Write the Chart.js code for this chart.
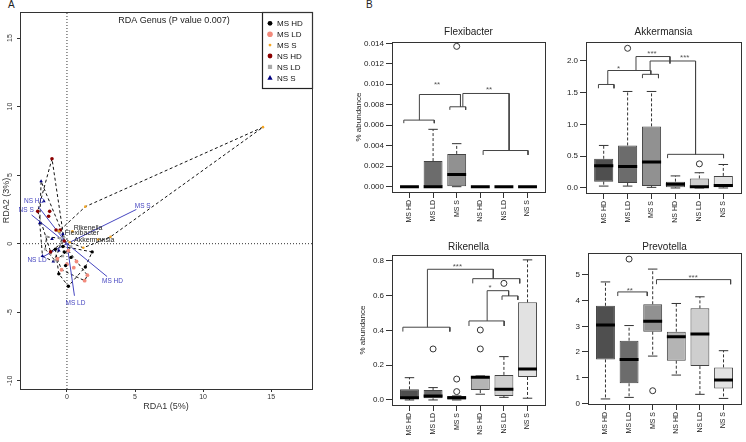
<!DOCTYPE html>
<html lang="en">
<head>
<meta charset="UTF-8">
<title>RDA Genus and boxplots</title>
<script src="https://cdn.jsdelivr.net/npm/chart.js"></script>
<style>
  body { margin: 0; background: #fff; width: 746px; height: 442px; position: relative; overflow: hidden;
         font-family: 'Liberation Sans', Arial, sans-serif; }
  canvas { position: absolute; }
  .panel { position: absolute; font-size: 10px; color: #222; }
</style>
</head>
<body>
<div class="panel" style="left:8px;top:-1px;">A</div>
<div class="panel" style="left:366px;top:-1px;">B</div>
<canvas id="rda" width="322" height="442" style="left:0;top:0"></canvas>
<canvas id="flex" width="220" height="232" style="left:330px;top:0"></canvas>
<canvas id="akk" width="196" height="232" style="left:550px;top:0"></canvas>
<canvas id="rik" width="220" height="230" style="left:330px;top:212px"></canvas>
<canvas id="prev" width="196" height="230" style="left:550px;top:212px"></canvas>

<script>
// ---- data: RDA (panel A) ----
const rdaXTicks = [0, 5, 10, 15];
const rdaYTicks = [-10, -5, 0, 5, 10, 15];
const rdaXMin = -3.45, rdaXMax = 18, rdaYMin = -10.6, rdaYMax = 16.9;

const legendNames = ['MS HD', 'MS LD', 'MS S', 'NS HD', 'NS LD', 'NS S'];
const msHdX = [-0.85, -0.3, 1.85, 1.35, 0.1, -0.6, 0.3, -0.2, -0.1];
const msHdY = [-0.4, -0.2, -0.6, -1.7, -3.1, -2.2, -1.0, -0.6, -1.6];
const msLdX = [0.7, 0.5, 1.5, 1.3, 0.0, -0.4, -0.7, 0.1];
const msLdY = [-1.3, -1.75, -2.3, -2.7, -1.5, -1.9, -1.1, -0.5];
const msSX = [14.4, 1.35, 3.2, 2.3, 0.2, -0.6, 1.2, 0.4];
const msSY = [8.5, 2.7, 0.5, 0.3, 0.1, 0.9, -0.3, 0.9];
const nsHdX = [-1.1, -2.15, -1.27, -1.35, -0.8, -0.2, -1.2, -0.5];
const nsHdY = [6.2, 2.36, 2.36, 2.0, 1.0, 0.2, -0.6, 1.0];
const nsLdX = [-1.6, -1.2, -0.5, -0.9, 0.3, -1.5, -0.3];
const nsLdY = [-0.4, -0.7, 0.4, -1.2, -0.2, 0.5, -0.9];
const nsSX = [-1.9, -1.7, -1.8, -1.0, -0.3, -1.1, -0.6, -2.0];
const nsSY = [4.55, 3.1, -0.9, -1.3, 0.7, 0.35, -0.5, 1.5];

const centroidNames = ['MS S', 'MS HD', 'MS LD', 'NS HD', 'NS S', 'NS LD'];
const centroidX = [5.1, 2.95, 0.55, -2.1, -2.6, -1.75];
const centroidY = [2.5, -2.4, -3.8, 2.7, 2.1, -0.95];

const speciesNames = ['Rikenella', 'Flexibacter', 'Akkermansia'];
const speciesX = [1.55, 1.1, 2.0];
const speciesY = [1.17, 0.8, 0.3];

// ---- data: boxplots (panel B) ----
const groups = ['MS HD', 'MS LD', 'MS S', 'NS HD', 'NS LD', 'NS S'];

const flexLow  = [0, 0, 0, 0, 0, 0];
const flexQ1   = [0, 0, 0, 0, 0, 0];
const flexMed  = [0, 0, 0.0012, 0, 0, 0];
const flexQ3   = [0, 0.0025, 0.0032, 0, 0, 0];
const flexHigh = [0, 0.0056, 0.0042, 0, 0, 0];
const flexOut  = [[], [], [0.0137], [], [], []];
const flexTicks = [0, 0.002, 0.004, 0.006, 0.008, 0.010, 0.012, 0.014];
// brackets: [from, to, height, left leg end, right leg end]
const flexBrackets = [[0.76, 2.05, 0.0065, 0.0062, 0.0062], [2.71, 3.38, 0.0078, 0.0075, 0.0075],
  [1.42, 3.16, 0.009, 0.0065, 0.0078], [4.12, 6.02, 0.00353, 0.0031, 0.0031], [3.26, 5.22, 0.0091, 0.0078, 0.00353]];
const flexStars = [['**', 2.17, 0.0101], ['**', 4.37, 0.0096]];

const akkLow  = [0.03, 0.03, 0.01, 0.0, 0.0, 0.0];
const akkQ1   = [0.10, 0.08, 0.03, 0.01, 0.01, 0.01];
const akkMed  = [0.35, 0.34, 0.41, 0.06, 0.02, 0.04];
const akkQ3   = [0.46, 0.67, 0.97, 0.10, 0.15, 0.19];
const akkHigh = [0.67, 1.52, 1.52, 0.19, 0.24, 0.37];
const akkOut  = [[], [2.2], [], [], [0.38], []];
const akkTicks = [0, 0.5, 1.0, 1.5, 2.0];
const akkBrackets = [[0.78, 1.43, 1.63, 1.57, 1.57], [2.62, 3.29, 1.79, 1.73, 1.73],
  [1.17, 2.97, 1.85, 1.63, 1.79], [2.35, 3.77, 2.07, 1.85, 1.96], [2.94, 4.84, 2.0, 1.85, 0.53],
  [3.67, 6.01, 0.53, 0.47, 0.47]];
const akkStars = [['*', 1.62, 1.9], ['***', 3.02, 2.13], ['***', 4.39, 2.08]];

const rikLow  = [0.0, 0.0, 0.0, 0.033, 0.015, 0.01];
const rikQ1   = [0.006, 0.01, 0.0, 0.057, 0.023, 0.132];
const rikMed  = [0.012, 0.023, 0.013, 0.13, 0.061, 0.178];
const rikQ3   = [0.061, 0.057, 0.023, 0.138, 0.144, 0.561];
const rikHigh = [0.128, 0.071, 0.023, 0.138, 0.249, 0.805];
const rikOut  = [[], [0.293], [0.048, 0.12], [0.293, 0.402], [0.67], []];
const rikTicks = [0, 0.2, 0.4, 0.6, 0.8];
const rikBrackets = [[0.72, 2.71, 0.418, 0.393, 0.393], [3.52, 5.01, 0.454, 0.425, 0.425],
  [4.92, 5.59, 0.598, 0.575, 0.575], [4.29, 5.20, 0.628, 0.454, 0.598], [3.68, 5.67, 0.697, 0.67, 0.67],
  [1.76, 4.55, 0.751, 0.418, 0.697]];
const rikStars = [['*', 4.41, 0.655], ['***', 3.03, 0.775]];

const prevLow  = [0.17, 0.23, 1.84, 1.10, 0.35, 0.19];
const prevQ1   = [1.71, 0.78, 2.79, 1.66, 1.45, 0.58];
const prevMed  = [3.05, 1.71, 3.20, 2.59, 2.70, 0.91];
const prevQ3   = [3.80, 2.44, 3.86, 2.79, 3.70, 1.40];
const prevHigh = [4.73, 3.03, 5.23, 3.89, 4.15, 2.05];
const prevOut  = [[], [5.62], [0.49], [], [], []];
const prevTicks = [0, 1, 2, 3, 4, 5];
const prevBrackets = [[1.52, 2.77, 4.34, 4.18, 4.18], [3.16, 6.30, 4.82, 4.64, 4.64]];
const prevStars = [['**', 2.03, 4.43], ['***', 4.71, 4.95]];

// ---- styles ----
const family = "'Liberation Sans', Arial, sans-serif";
Chart.defaults.font.family = family;
const boxFill = ['#4f4f4f', '#6c6c6c', '#919191', '#b4b4b4', '#cecece', '#e2e2e2'];
const groupColors = ['#000000', '#f28a7c', '#f5a623', '#8b0000', '#a9a9a9', '#00007f'];
const groupStyles = ['circle', 'circle', 'circle', 'circle', 'rect', 'triangle'];
const groupRadius = [1.7, 1.9, 1.3, 1.8, 1.8, 2.1];
const arrowColor = '#4646c0';

// frame around the plot region (R box())
const framePlugin = {
  id: 'frame',
  afterDraw(chart) {
    const a = chart.chartArea, ctx = chart.ctx;
    ctx.save();
    ctx.strokeStyle = '#333';
    ctx.lineWidth = 1;
    ctx.strokeRect(Math.round(a.left) + 0.5, Math.round(a.top) + 0.5,
      Math.round(a.right - a.left), Math.round(a.bottom - a.top));
    ctx.restore();
  }
};

// convex hull (monotone chain) for ordihull style polygons
function hull(xs, ys) {
  const pts = xs.map((x, i) => ({x: x, y: ys[i]})).sort((a, b) => a.x - b.x || a.y - b.y);
  const cross = (o, a, b) => (a.x - o.x) * (b.y - o.y) - (a.y - o.y) * (b.x - o.x);
  const lower = [], upper = [];
  for (const p of pts) {
    while (lower.length >= 2 && cross(lower[lower.length - 2], lower[lower.length - 1], p) <= 0) lower.pop();
    lower.push(p);
  }
  for (const p of pts.slice().reverse()) {
    while (upper.length >= 2 && cross(upper[upper.length - 2], upper[upper.length - 1], p) <= 0) upper.pop();
    upper.push(p);
  }
  const h = lower.slice(0, -1).concat(upper.slice(0, -1));
  h.push(h[0]);
  return h;
}

function drawMarker(ctx, style, color, r, x, y) {
  ctx.fillStyle = color;
  ctx.beginPath();
  if (style === 'rect') {
    ctx.rect(x - r, y - r, 2 * r, 2 * r);
  } else if (style === 'triangle') {
    ctx.moveTo(x, y - r * 1.2);
    ctx.lineTo(x + r * 1.1, y + r * 0.8);
    ctx.lineTo(x - r * 1.1, y + r * 0.8);
    ctx.closePath();
  } else {
    ctx.arc(x, y, r, 0, Math.PI * 2);
  }
  ctx.fill();
}

// ---- panel A: RDA biplot ----
const groupXs = [msHdX, msLdX, msSX, nsHdX, nsLdX, nsSX];
const groupYs = [msHdY, msLdY, msSY, nsHdY, nsLdY, nsSY];

const rdaDatasets = [];
groupXs.forEach((xs, g) => {
  rdaDatasets.push({
    data: xs.map((x, i) => ({x: x, y: groupYs[g][i]})),
    pointStyle: groupStyles[g], pointRadius: groupRadius[g],
    backgroundColor: groupColors[g], borderColor: groupColors[g], borderWidth: 0,
    order: 0
  });
});
groupXs.forEach((xs, g) => {
  rdaDatasets.push({
    data: hull(xs, groupYs[g]), showLine: true, pointRadius: 0,
    borderColor: '#111', borderWidth: 1, borderDash: [3, 2.5], order: 2
  });
});
const arrowPts = [];
centroidX.forEach((x, i) => arrowPts.push({x: 0, y: 0}, {x: x, y: centroidY[i]}, {x: 0, y: null}));
rdaDatasets.push({ data: arrowPts, showLine: true, spanGaps: false, pointRadius: 0,
  borderColor: arrowColor, borderWidth: 1, order: 1 });
rdaDatasets.push({ data: [{x: rdaXMin, y: 0}, {x: rdaXMax, y: 0}, {x: 0, y: null}, {x: 0, y: rdaYMin}, {x: 0, y: rdaYMax}],
  showLine: true, spanGaps: false, pointRadius: 0, borderColor: '#333', borderWidth: 1, borderDash: [1, 2], order: 3 });

const rdaTextPlugin = {
  id: 'rdaText',
  afterDatasetsDraw(chart) {
    const ctx = chart.ctx, sx = chart.scales.x, sy = chart.scales.y, a = chart.chartArea;
    ctx.save();
    ctx.textAlign = 'center';
    ctx.textBaseline = 'middle';
    // y tick labels written parallel to the axis
    ctx.fillStyle = '#333';
    ctx.font = '7px ' + family;
    rdaYTicks.forEach(v => {
      ctx.save();
      ctx.translate(a.left - 10, sy.getPixelForValue(v));
      ctx.rotate(-Math.PI / 2);
      ctx.fillText(String(v), 0, 0);
      ctx.restore();
    });
    // title
    ctx.font = '9px ' + family;
    ctx.fillStyle = '#222';
    ctx.fillText('RDA Genus (P value 0.007)', (a.left + a.right) / 2 + 8, a.top + 9);
    // centroid labels
    const ox = sx.getPixelForValue(0), oy = sy.getPixelForValue(0);
    ctx.font = '6.5px ' + family;
    ctx.fillStyle = arrowColor;
    centroidNames.forEach((name, i) => {
      const px = sx.getPixelForValue(centroidX[i]), py = sy.getPixelForValue(centroidY[i]);
      const d = Math.hypot(px - ox, py - oy);
      ctx.fillText(name, px + (px - ox) / d * 7, py + (py - oy) / d * 7);
    });
    // species labels
    ctx.fillStyle = '#222';
    ctx.font = '7px ' + family;
    speciesNames.forEach((name, i) => ctx.fillText(name, sx.getPixelForValue(speciesX[i]), sy.getPixelForValue(speciesY[i])));
    // legend
    const lw = 50, lh = 76, lx = a.right - lw, ly = a.top;
    ctx.fillStyle = '#fff';
    ctx.fillRect(lx, ly, lw, lh);
    ctx.strokeStyle = '#222';
    ctx.lineWidth = 1.2;
    ctx.strokeRect(lx + 0.5, ly + 0.5, lw, lh);
    ctx.font = '8px ' + family;
    ctx.textAlign = 'left';
    legendNames.forEach((name, i) => {
      const y = ly + 11.3 + i * 10.9;
      const r = i === 2 ? 1.4 : (i === 1 ? 2.8 : (i === 4 ? 2.1 : 2.4));
      drawMarker(ctx, groupStyles[i], groupColors[i], r, lx + 8, y);
      ctx.fillStyle = '#111';
      ctx.fillText(name, lx + 15, y + 0.5);
    });
    ctx.restore();
  }
};

new Chart(document.getElementById('rda'), {
  type: 'scatter',
  data: { datasets: rdaDatasets },
  options: {
    responsive: false,
    animation: false,
    layout: { padding: { top: 12, right: 10, left: 0, bottom: 0 } },
    plugins: { legend: { display: false }, tooltip: { enabled: false } },
    scales: {
      x: {
        type: 'linear', min: rdaXMin, max: rdaXMax,
        afterBuildTicks: s => { s.ticks = rdaXTicks.map(v => ({value: v})); },
        afterFit: s => { s.height = 53; },
        grid: { drawOnChartArea: false, tickLength: 3, color: '#333' },
        border: { display: false },
        ticks: { font: { size: 7 }, color: '#333', padding: 1, maxRotation: 0 },
        title: { display: true, text: 'RDA1 (5%)', color: '#333', font: { size: 9 }, padding: { top: 0, bottom: 30 } }
      },
      y: {
        type: 'linear', min: rdaYMin, max: rdaYMax,
        afterBuildTicks: s => { s.ticks = rdaYTicks.map(v => ({value: v})); },
        afterFit: s => { s.width = 20; },
        grid: { drawOnChartArea: false, tickLength: 3, color: '#333' },
        border: { display: false },
        ticks: { font: { size: 7 }, color: 'rgba(0,0,0,0)' },
        title: { display: true, text: 'RDA2 (3%)', color: '#333', font: { size: 9 }, padding: { top: 1, bottom: 0 } }
      }
    }
  },
  plugins: [framePlugin, rdaTextPlugin]
});

// ---- panel B: boxplots ----
function bracketSegments(list) {
  const pts = [];
  list.forEach(b => {
    pts.push({x: b[0], y: b[3]}, {x: b[0], y: b[2]}, {x: b[1], y: b[2]}, {x: b[1], y: b[4]}, {x: b[1], y: null});
  });
  return pts;
}

function starPlugin(stars) {
  return {
    id: 'stars',
    afterDatasetsDraw(chart) {
      const ctx = chart.ctx, sx = chart.scales.x, sy = chart.scales.y;
      ctx.save();
      ctx.fillStyle = '#555';
      ctx.font = '8px ' + family;
      ctx.textAlign = 'center';
      ctx.textBaseline = 'top';
      stars.forEach(s => ctx.fillText(s[0], sx.getPixelForValue(s[1]), sy.getPixelForValue(s[2]) - 2.5));
      ctx.restore();
    }
  };
}

function boxChart(id, s) {
  const xs = groups.map((g, i) => i + 1);
  const boxes = [], medians = [], whiskers = [], caps = [], outliers = [];
  xs.forEach((x, i) => {
    boxes.push({x: x, y: [s.q1[i], s.q3[i]]});
    medians.push({x: x - 0.4, y: s.med[i]}, {x: x + 0.4, y: s.med[i]}, {x: x, y: null});
    whiskers.push({x: x, y: s.q3[i]}, {x: x, y: s.high[i]}, {x: x, y: null},
                  {x: x, y: s.q1[i]}, {x: x, y: s.low[i]}, {x: x, y: null});
    caps.push({x: x - 0.2, y: s.high[i]}, {x: x + 0.2, y: s.high[i]}, {x: x, y: null},
              {x: x - 0.2, y: s.low[i]}, {x: x + 0.2, y: s.low[i]}, {x: x, y: null});
    s.out[i].forEach(v => outliers.push({x: x, y: v}));
  });
  const lineBase = { type: 'line', pointRadius: 0, spanGaps: false, fill: false, tension: 0 };

  new Chart(document.getElementById(id), {
    type: 'bar',
    data: {
      datasets: [
        Object.assign({}, lineBase, { data: medians, borderColor: '#000', borderWidth: 3, order: 0 }),
        Object.assign({}, lineBase, { data: caps, borderColor: '#333', borderWidth: 1, order: 1 }),
        Object.assign({}, lineBase, { data: whiskers, borderColor: '#333', borderWidth: 1, borderDash: [3, 2], order: 2 }),
        Object.assign({}, lineBase, { data: bracketSegments(s.brackets), borderColor: '#444', borderWidth: 1, order: 1 }),
        { type: 'scatter', data: outliers, pointStyle: 'circle', pointRadius: 3, borderWidth: 1,
          borderColor: '#333', backgroundColor: 'rgba(0,0,0,0)', order: 1 },
        { type: 'bar', data: boxes, backgroundColor: boxFill, borderColor: '#444', borderWidth: 1,
          borderSkipped: false, categoryPercentage: 1, barPercentage: 0.8, order: 3 }
      ]
    },
    options: {
      responsive: false,
      animation: false,
      layout: { padding: { left: 0, right: s.padRight, top: 0, bottom: 0 } },
      plugins: {
        legend: { display: false },
        tooltip: { enabled: false },
        title: { display: true, text: s.title, fullSize: false, color: '#222',
                 font: { size: 10, weight: 'normal' }, padding: { top: s.titleTop, bottom: s.titleBottom } }
      },
      scales: {
        x: {
          type: 'linear', min: 0.26, max: 6.74, offset: false,
          afterBuildTicks: sc => { sc.ticks = xs.map(v => ({value: v})); },
          afterFit: sc => { sc.height = s.xHeight; },
          grid: { drawOnChartArea: false, offset: false, tickLength: 6, color: '#333' },
          border: { display: false },
          ticks: { autoSkip: false, minRotation: 90, maxRotation: 90, padding: 2, color: '#222',
                   font: { size: 7 }, callback: v => groups[Math.round(v) - 1] }
        },
        y: {
          type: 'linear', min: s.min, max: s.max,
          afterBuildTicks: sc => { sc.ticks = s.ticks.map(v => ({value: v})); },
          afterFit: sc => { sc.width = s.yWidth; },
          grid: { drawOnChartArea: false, tickLength: 6, color: '#333' },
          border: { display: false },
          ticks: { padding: 2, color: '#222', font: { size: 8 }, callback: v => v.toFixed(s.dec) },
          title: { display: !!s.yTitle, text: s.yTitle || '', color: '#222', font: { size: 8 },
                   padding: { top: s.yTitlePad || 0, bottom: 0 } }
        }
      }
    },
    plugins: [framePlugin, starPlugin(s.stars)]
  });
}

boxChart('flex', { title: 'Flexibacter', low: flexLow, q1: flexQ1, med: flexMed, q3: flexQ3, high: flexHigh, out: flexOut,
  ticks: flexTicks, dec: 3, min: -0.00052, max: 0.014127, brackets: flexBrackets, stars: flexStars,
  yTitle: '% abundance', yTitlePad: 24, yWidth: 62, padRight: 2, titleTop: 26, titleBottom: 4, xHeight: 40 });

boxChart('akk', { title: 'Akkermansia', low: akkLow, q1: akkQ1, med: akkMed, q3: akkQ3, high: akkHigh, out: akkOut,
  ticks: akkTicks, dec: 1, min: -0.079, max: 2.299, brackets: akkBrackets, stars: akkStars,
  yWidth: 36, padRight: 3, titleTop: 26, titleBottom: 4, xHeight: 39 });

boxChart('rik', { title: 'Rikenella', low: rikLow, q1: rikQ1, med: rikMed, q3: rikQ3, high: rikHigh, out: rikOut,
  ticks: rikTicks, dec: 1, min: -0.029, max: 0.833, brackets: rikBrackets, stars: rikStars,
  yTitle: '% abundance', yTitlePad: 28, yWidth: 62, padRight: 2, titleTop: 29, titleBottom: 2, xHeight: 37 });

boxChart('prev', { title: 'Prevotella', low: prevLow, q1: prevQ1, med: prevMed, q3: prevQ3, high: prevHigh, out: prevOut,
  ticks: prevTicks, dec: 0, min: -0.027, max: 5.857, brackets: prevBrackets, stars: prevStars,
  yWidth: 38, padRight: 2, titleTop: 29, titleBottom: 0, xHeight: 38 });
</script>
</body>
</html>
